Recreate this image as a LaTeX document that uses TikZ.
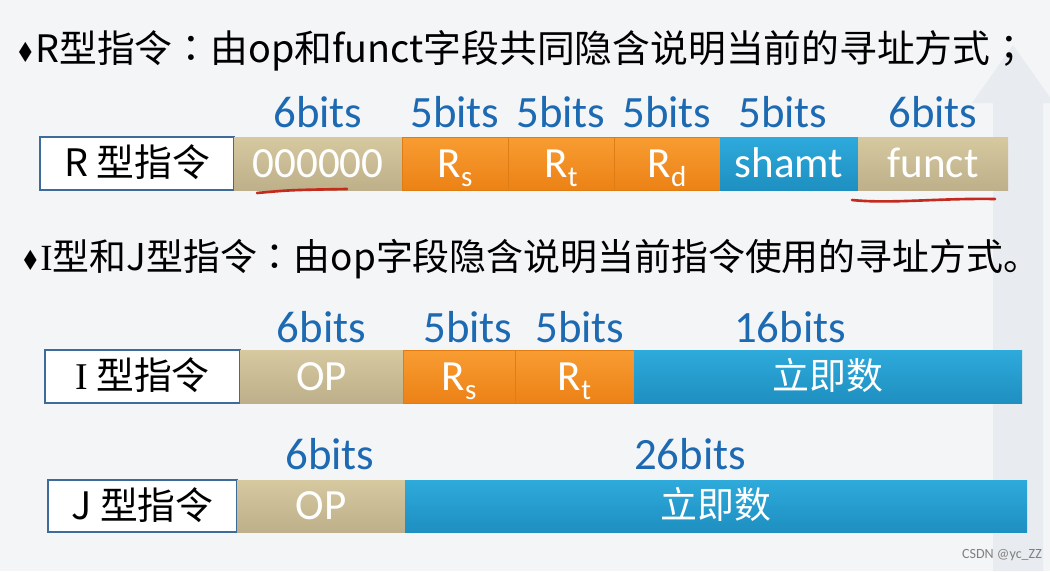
\documentclass[tikz,border=0pt]{standalone}
\usepackage{fontspec}
\setmainfont{Carlito}
\newfontfamily\cjk{Noto Sans CJK SC}
\newfontfamily\cjkjp{Noto Sans CJK JP}
\newfontfamily\romanI{Liberation Serif}
\newfontfamily\dingfont{DejaVu Sans}
\usetikzlibrary{positioning}
\definecolor{tantop}{HTML}{D6C9A0}
\definecolor{tanbot}{HTML}{BDB08A}
\definecolor{orangetop}{HTML}{F89C32}
\definecolor{orangebot}{HTML}{EC8216}
\definecolor{orangeline}{HTML}{E07C14}
\definecolor{bluetop}{HTML}{2EAADB}
\definecolor{bluebot}{HTML}{1E8FC1}
\definecolor{frameblue}{HTML}{3D6C9C}
\definecolor{bitsblue}{HTML}{1D6AB3}
\definecolor{markred}{HTML}{C42A1E}
\definecolor{bggray}{HTML}{F4F5F7}
\definecolor{arrowgray}{HTML}{E8EBEF}
\newcommand{\regsub}[1]{\raisebox{-0.45ex}[0pt][0pt]{\fontsize{16.5}{16}\selectfont #1}}
\newcommand{\bullettip}{{\dingfont\fontsize{15}{15}\selectfont\scalebox{0.85}[1.05]{♦}}}
\newcommand{\jpcolon}{{\cjkjp ：}}

\begin{document}
\begin{tikzpicture}[
        kindbox/.style={rectangle, draw=frameblue, line width=0.8pt, fill=white, minimum height=1.06cm, inner sep=0pt, outer sep=0pt, text height=0.52cm, text depth=0pt, font=\cjk\fontsize{21.5}{24}\selectfont},
        field/.style={rectangle, minimum height=1.06cm, inner sep=0pt, outer sep=0pt, text height=0.55cm, text depth=0pt, text=white, font=\fontsize{24.5}{28}\selectfont},
        opfield/.style={field, top color=tantop, bottom color=tanbot},
        regfield/.style={field, top color=orangetop, bottom color=orangebot, draw=orangeline, line width=0.4pt},
        immfield/.style={field, top color=bluetop, bottom color=bluebot},
        cjkfield/.style={immfield, font=\cjk\fontsize{21}{24}\selectfont, text height=0.5cm},
        bits/.style={inner sep=0pt, text depth=0pt, text=bitsblue, font=\fontsize{25.5}{28}\selectfont},
        heading/.style={anchor=base west, inner sep=0pt, font=\cjk\fontsize{21.5}{24}\selectfont},
        markup/.style={draw=markred, line width=1.5pt, line cap=round}
    ]
        % background
        \useasboundingbox (0,0) rectangle (21,-11.42);
        \fill[bggray] (0,0) rectangle (21,-11.42);
        \fill[arrowgray] (19.86,-11.42) -- (19.86,-2.06) -- (19.44,-2.06) -- (20.26,-0.9)
            -- (21.08,-2.06) -- (20.86,-2.06) -- (20.86,-11.42) -- cycle;

        % headings
        \node[heading] (rtitle) at (0.3,-1.24) {\bullettip R型指令\jpcolon 由op和funct字段共同隐含说明当前的寻址方式{\cjkjp ；}};
        \node[heading, font=\cjk\fontsize{21}{24}\selectfont] (ijtitle) at (0.4,-5.4) {\bullettip {\romanI I}型和J型指令\jpcolon 由op字段隐含说明当前指令使用的寻址方式。};

        % R-type
        \node[kindbox, minimum width=3.88cm] (rkind) at (2.74,-3.27) {R 型指令};
        \node[opfield, minimum width=3.36cm, right=0cm of rkind] (rop) {000000};
        \node[regfield, minimum width=2.12cm, right=0cm of rop] (rrs) {R\regsub{s}};
        \node[regfield, minimum width=2.12cm, right=0cm of rrs] (rrt) {R\regsub{t}};
        \node[regfield, minimum width=2.12cm, right=0cm of rrt] (rrd) {R\regsub{d}};
        \node[immfield, minimum width=2.76cm, right=0cm of rrd] (rshamt) {shamt};
        \node[opfield, minimum width=3.0cm, right=0cm of rshamt] (rfunct) {funct};

        \node[bits, above=0.18cm of rop] (rbop) {6bits};
        \node[bits, above=0.18cm of rrs] (rbrs) {5bits};
        \node[bits, above=0.18cm of rrt] (rbrt) {5bits};
        \node[bits, above=0.18cm of rrd] (rbrd) {5bits};
        \node[bits, above=0.18cm of rshamt, xshift=-0.12cm] (rbshamt) {5bits};
        \node[bits, above=0.18cm of rfunct] (rbfunct) {6bits};

        % I-type
        \node[kindbox, minimum width=3.9cm] (ikind) at (2.85,-7.53) {{\romanI I} 型指令};
        \node[opfield, minimum width=3.26cm, right=0cm of ikind] (iop) {OP};
        \node[regfield, minimum width=2.24cm, right=0cm of iop] (irs) {R\regsub{s}};
        \node[regfield, minimum width=2.38cm, right=0cm of irs] (irt) {R\regsub{t}};
        \node[cjkfield, minimum width=7.76cm, right=0cm of irt] (iimm) {立即数};

        \node[bits, above=0.15cm of iop] (ibop) {6bits};
        \node[bits, above=0.15cm of irs, xshift=0.18cm] (ibrs) {5bits};
        \node[bits, above=0.15cm of irt, xshift=0.11cm] (ibrt) {5bits};
        \node[bits, above=0.15cm of iimm, xshift=-0.76cm] (ibimm) {16bits};

        % J-type
        \node[kindbox, minimum width=3.78cm, minimum height=1.04cm] (jkind) at (2.85,-10.12) {J 型指令};
        \node[opfield, minimum width=3.36cm, minimum height=1.04cm, right=0cm of jkind] (jop) {OP};
        \node[cjkfield, minimum width=12.44cm, minimum height=1.04cm, right=0cm of jop] (jimm) {立即数};

        \node[bits, above=0.2cm of jop, xshift=0.18cm] (jbop) {6bits};
        \node[bits, above=0.2cm of jimm, xshift=-0.52cm] (jbimm) {26bits};

        % hand marks
        \draw[markup] (5.14,-3.86) .. controls (5.8,-3.80) .. (6.94,-3.78);
        \draw[markup] (17.04,-4.0) .. controls (17.8,-4.08) and (18.8,-3.96) .. (19.9,-3.98);

        \node[text=gray, font=\fontsize{8}{8}\selectfont] (mark) at (20.04,-11.1) {CSDN @yc\_ZZ};
    \end{tikzpicture}
\end{document}
